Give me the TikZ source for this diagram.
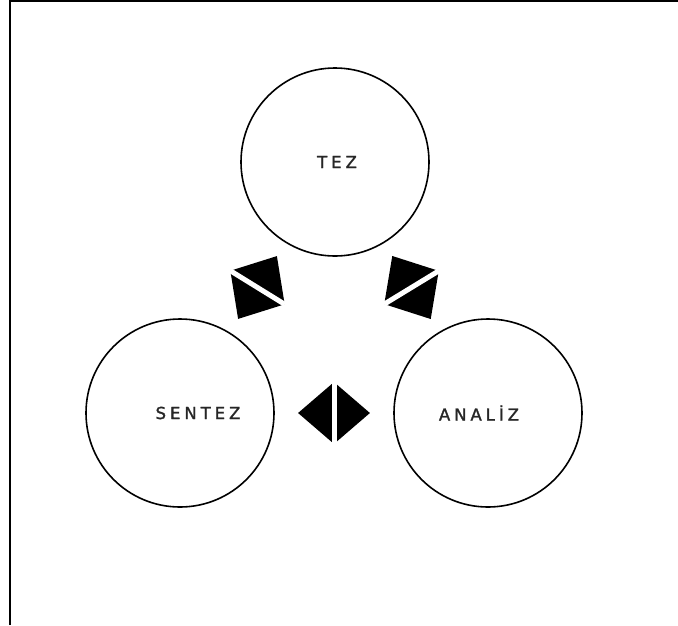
\documentclass[tikz,border=0pt]{standalone}
\usepackage{fontspec}
\usetikzlibrary{shapes.geometric,calc}
\newfontfamily\lblfont[LetterSpace=24,FakeBold=1.6]{DejaVu Sans}
\begin{document}
\begin{tikzpicture}[x=1pt,y=-1pt,
  circ/.style={draw=black, line width=1.6pt, circle, minimum size=188pt, inner sep=0pt},
  lbl/.style={font=\lblfont\fontsize{16.5}{19}\selectfont, text=black!85, inner sep=0pt},
  dbl/.style={diamond, fill=black, draw=none, inner sep=0pt, minimum width=74pt, minimum height=64pt},
  gapline/.style={draw=white, line width=5pt},
  frameline/.style={draw=black, line width=2pt}]
\useasboundingbox (0,0) rectangle (678,625);
% frame (top and left edges only)
\coordinate (fbl) at (10,625);
\coordinate (ftl) at (10,1);
\coordinate (ftr) at (678,1);
\draw[frameline] (fbl) -- (ftl) -- (ftr);
% circles
\node[circ] (tez) at (335,162) {};
\node[circ] (sentez) at (180,413) {};
\node[circ] (analiz) at (488,413) {};
% labels
\node[lbl] (ltez) at ($(tez)+(2,0)$) {TEZ};
\node[lbl] (lsentez) at ($(sentez)+(18,0)$) {SENTEZ};
\node[lbl] (lanaliz) at ($(analiz)+(-9,0)$) {ANALİZ};
% double arrowheads
\path (sentez.center) -- (tez.center) node[dbl, midway, sloped] (d1) {};
\path (analiz.center) -- (tez.center) node[dbl, midway, sloped] (d2) {};
\path (sentez.center) -- (analiz.center) node[dbl, midway, sloped, minimum width=72pt, minimum height=62pt] (d3) {};
\draw[gapline] (d1.north) -- (d1.south);
\draw[gapline] (d2.north) -- (d2.south);
\draw[gapline] (d3.north) -- (d3.south);
\end{tikzpicture}
\end{document}
